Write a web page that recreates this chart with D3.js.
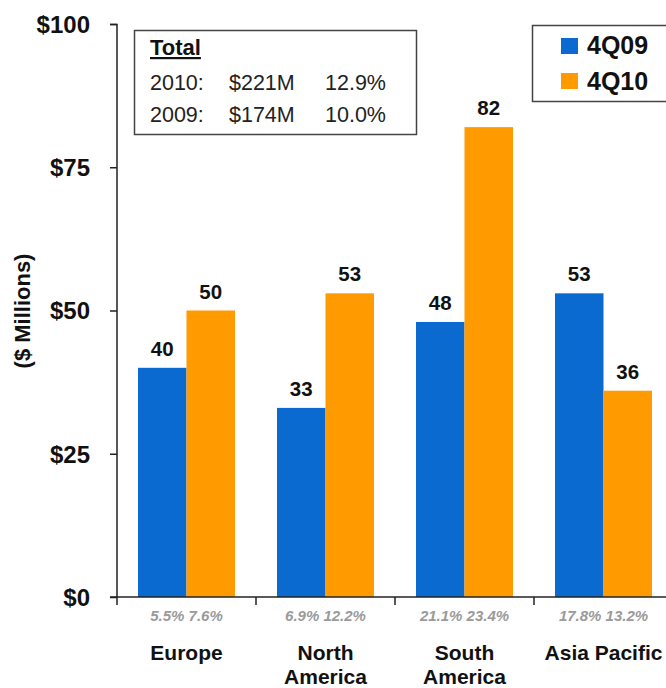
<!DOCTYPE html>
<html><head><meta charset="utf-8">
<script src="https://cdn.jsdelivr.net/npm/d3@7"></script>
<style>body{margin:0;background:#fff}svg{display:block;font-family:"Liberation Sans",Arial,sans-serif}</style>
</head><body><svg id="c" width="666" height="688"></svg>
<script>
const categories = [["Europe"],["North","America"],["South","America"],["Asia Pacific"]];
const series = ["4Q09","4Q10"];
const values4Q09 = [40,33,48,53];
const values4Q10 = [50,53,82,36];
const pctLabels = [["5.5%","7.6%"],["6.9%","12.2%"],["21.1%","23.4%"],["17.8%","13.2%"]];
const yTicks = [0,25,50,75,100];
const totalRows = [["2010:","$221M","12.9%"],["2009:","$174M","10.0%"]];
const colors = ["#0A6ACF","#FF9A00"];

const svg = d3.select("#c");
const y = d3.scaleLinear().domain([0,100]).range([597,24]);
const x = d3.scaleBand().domain(d3.range(4)).range([117,673]).paddingInner(0).paddingOuter(0);
const barW = 48.5, padL = 21;

// bars
const data = [values4Q09, values4Q10];
data.forEach((vals, si) => {
  svg.selectAll(null).data(vals).enter().append("rect")
    .attr("x",(d,i)=>x(i)+padL+si*barW)
    .attr("width",barW)
    .attr("y",d=>y(d)).attr("height",d=>y(0)-y(d))
    .attr("fill",colors[si]);
  svg.selectAll(null).data(vals).enter().append("text")
    .attr("x",(d,i)=>x(i)+padL+si*barW+barW/2)
    .attr("y",d=>y(d)-12)
    .attr("text-anchor","middle").attr("font-weight","bold").attr("font-size",20.5).attr("fill","#111")
    .text(d=>d);
});

// y axis
const yAxis = d3.axisLeft(y).tickValues(yTicks).tickSize(7).tickFormat(d=>"$"+d);
const ga = svg.append("g").attr("transform","translate(117,0)").call(yAxis);
ga.select(".domain").attr("d","M-7,24.5H0V597").attr("stroke","#222").attr("stroke-width",1.5);
ga.selectAll(".tick line").attr("stroke","#222").attr("stroke-width",1.5);
ga.selectAll(".tick text").attr("x",-27).attr("dy","0.35em").attr("font-size",24).attr("font-weight","bold").attr("fill","#111")
  .attr("font-family","Liberation Sans, Arial, sans-serif");

// x baseline
svg.append("line").attr("x1",110).attr("x2",666).attr("y1",597).attr("y2",597).attr("stroke","#222").attr("stroke-width",1.5);
svg.selectAll(null).data(d3.range(4)).enter().append("line")
  .attr("x1",i=>x(i)).attr("x2",i=>x(i)).attr("y1",597).attr("y2",605).attr("stroke","#222").attr("stroke-width",1.5);

// pct labels
svg.selectAll(null).data(pctLabels).enter().append("text")
  .attr("x",(d,i)=>x(i)+x.bandwidth()/2).attr("y",621)
  .attr("text-anchor","middle").attr("font-size",15).attr("font-style","italic").attr("font-weight","bold").attr("fill","#9a9a9a")
  .text(d=>d.join(" "));

// category labels
const cl = svg.selectAll(null).data(categories).enter().append("text")
  .attr("text-anchor","middle").attr("font-size",21).attr("font-weight","bold").attr("fill","#111");
cl.each(function(d,i){
  const t = d3.select(this);
  d.forEach((line,j)=>t.append("tspan").attr("x",x(i)+x.bandwidth()/2).attr("y",660+j*24).text(line));
});

// y title
svg.append("text").attr("transform","translate(30,311) rotate(-90)")
  .attr("text-anchor","middle").attr("font-size",22).attr("font-weight","bold").attr("fill","#111")
  .text("($ Millions)");

// total box
svg.append("rect").attr("x",134.5).attr("y",30.5).attr("width",282).attr("height",104).attr("fill","#fff").attr("stroke","#444").attr("stroke-width",1.5);
svg.append("text").attr("x",150).attr("y",55).attr("font-size",22).attr("font-weight","bold").attr("fill","#111")
  .attr("text-decoration","underline").text("Total");
const colX = [150,229,325];
totalRows.forEach((row,r)=>{
  row.forEach((c,k)=>svg.append("text").attr("x",colX[k]).attr("y",90+r*32).attr("font-size",21.5).attr("fill","#222").text(c));
});

// legend
svg.append("rect").attr("x",532.5).attr("y",25.5).attr("width",140).attr("height",76).attr("fill","#fff").attr("stroke","#444").attr("stroke-width",1.5);
series.forEach((s,i)=>{
  svg.append("rect").attr("x",561).attr("y",38+i*35).attr("width",17).attr("height",16).attr("fill",colors[i]);
  svg.append("text").attr("x",587).attr("y",54+i*36).attr("font-size",25).attr("font-weight","bold").attr("fill","#111").text(s);
});
</script></body></html>
